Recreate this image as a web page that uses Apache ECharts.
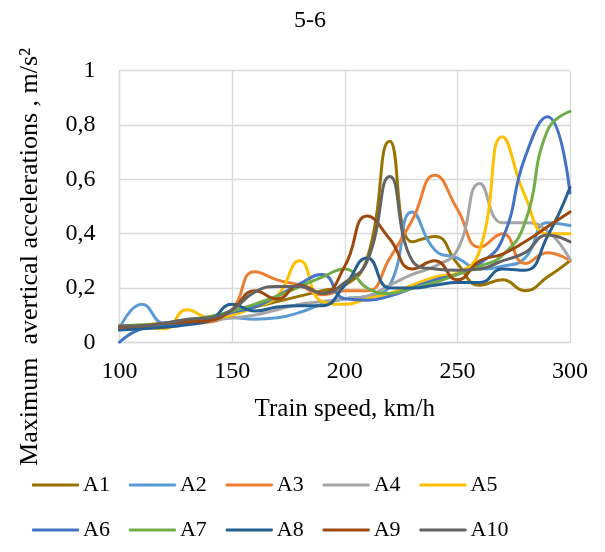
<!DOCTYPE html>
<html>
<head>
<meta charset="utf-8">
<script src="https://cdn.jsdelivr.net/npm/echarts@6/dist/echarts.min.js"></script>
<style>
  html, body { margin: 0; padding: 0; background: #fff; }
  #chart { width: 605px; height: 552px; }
</style>
</head>
<body>
<div id="chart"></div>
<script>
// Train speed, km/h
const speeds = [100, 110, 120, 130, 140, 150, 160, 170, 180, 190, 200, 210, 220, 230, 240, 250, 260, 270, 280, 290, 300];

// Maximum vertical accelerations, m/s², one array per measuring point
const A1  = [0.06, 0.06, 0.065, 0.075, 0.09, 0.11, 0.13, 0.15, 0.17, 0.19, 0.21, 0.31, 0.74, 0.37, 0.39, 0.29, 0.21, 0.23, 0.19, 0.24, 0.30];
const A2  = [0.05, 0.14, 0.07, 0.07, 0.08, 0.09, 0.085, 0.09, 0.11, 0.14, 0.16, 0.17, 0.21, 0.48, 0.34, 0.31, 0.27, 0.28, 0.31, 0.44, 0.43];
const A3  = [0.055, 0.06, 0.065, 0.07, 0.075, 0.12, 0.26, 0.23, 0.21, 0.175, 0.19, 0.19, 0.31, 0.45, 0.615, 0.49, 0.35, 0.40, 0.29, 0.33, 0.30];
const A4  = [0.06, 0.06, 0.065, 0.07, 0.08, 0.09, 0.10, 0.12, 0.14, 0.15, 0.16, 0.17, 0.21, 0.25, 0.28, 0.34, 0.585, 0.44, 0.44, 0.41, 0.305];
const A5  = [0.06, 0.055, 0.05, 0.12, 0.09, 0.10, 0.13, 0.17, 0.30, 0.15, 0.14, 0.16, 0.18, 0.21, 0.24, 0.255, 0.34, 0.757, 0.54, 0.40, 0.40];
const A6  = [0.0, 0.05, 0.06, 0.07, 0.085, 0.11, 0.13, 0.17, 0.215, 0.25, 0.16, 0.155, 0.17, 0.20, 0.23, 0.25, 0.29, 0.38, 0.68, 0.83, 0.55];
const A7  = [0.06, 0.065, 0.07, 0.08, 0.095, 0.115, 0.14, 0.17, 0.205, 0.24, 0.27, 0.20, 0.18, 0.20, 0.22, 0.25, 0.28, 0.32, 0.44, 0.78, 0.85];
const A8  = [0.045, 0.05, 0.055, 0.065, 0.08, 0.14, 0.115, 0.13, 0.135, 0.135, 0.21, 0.31, 0.20, 0.20, 0.21, 0.22, 0.22, 0.27, 0.265, 0.39, 0.57];
const A9  = [0.055, 0.06, 0.07, 0.075, 0.08, 0.12, 0.19, 0.16, 0.21, 0.18, 0.28, 0.465, 0.38, 0.27, 0.30, 0.23, 0.30, 0.325, 0.37, 0.425, 0.48];
const A10 = [0.06, 0.06, 0.07, 0.085, 0.09, 0.12, 0.185, 0.205, 0.205, 0.18, 0.22, 0.30, 0.61, 0.30, 0.27, 0.265, 0.27, 0.30, 0.33, 0.395, 0.37];

const seriesNames = ['A1', 'A2', 'A3', 'A4', 'A5', 'A6', 'A7', 'A8', 'A9', 'A10'];
const seriesValues = [A1, A2, A3, A4, A5, A6, A7, A8, A9, A10];
const seriesColors = ['#997300', '#5B9BD5', '#ED7D31', '#A5A5A5', '#FFC000',
                      '#4472C4', '#70AD47', '#255E91', '#9E480E', '#636363'];

// Axis ticks
const xMin = 100, xMax = 300, xStep = 50;
const yMin = 0, yMax = 1, yStep = 0.2;

const FONT = '"Liberation Serif", "Times New Roman", serif';
const gridColor = '#D9D9D9';

const chart = echarts.init(document.getElementById('chart'), null, { renderer: 'canvas' });

const series = seriesNames.map((name, k) => ({
  name: name,
  type: 'line',
  smooth: 0.5,
  symbol: 'none',
  data: speeds.map((s, i) => [s, seriesValues[k][i]]),
  lineStyle: { width: 3, color: seriesColors[k], cap: 'round', join: 'round' },
  itemStyle: { color: seriesColors[k] },
  emphasis: { disabled: true }
}));

const legendCommon = {
  left: 32,
  padding: 0,
  orient: 'horizontal',
  icon: 'roundRect',
  itemWidth: 47,
  itemHeight: 3,
  itemGap: 19,
  textStyle: { fontFamily: FONT, fontSize: 22, color: '#000', padding: [0, 0, 0, -1] },
  selectedMode: false
};

chart.setOption({
  animation: false,
  backgroundColor: '#fff',
  title: {
    text: '5-6',
    left: 305,
    textAlign: 'center',
    top: 4,
    textStyle: { fontFamily: FONT, fontSize: 24, fontWeight: 'normal', color: '#000' }
  },
  grid: { left: 119.5, right: 35, top: 70.7, bottom: 209.7, containLabel: false },
  legend: [
    Object.assign({}, legendCommon, { top: 474, data: seriesNames.slice(0, 5) }),
    Object.assign({}, legendCommon, { top: 519, data: seriesNames.slice(5) })
  ],
  xAxis: {
    type: 'value',
    min: xMin, max: xMax, interval: xStep,
    name: 'Train speed, km/h',
    nameLocation: 'middle',
    nameGap: 55,
    nameTextStyle: { fontFamily: FONT, fontSize: 25, color: '#000' },
    axisLine: { show: true, lineStyle: { color: gridColor, width: 1.3 } },
    axisTick: { show: false },
    axisLabel: { fontFamily: FONT, fontSize: 24, color: '#000', margin: 17 },
    splitLine: { show: true, lineStyle: { color: gridColor, width: 1.3 } }
  },
  yAxis: {
    type: 'value',
    min: yMin, max: yMax, interval: yStep,
    axisLine: { show: true, lineStyle: { color: gridColor, width: 1.3 } },
    axisTick: { show: false },
    axisLabel: {
      fontFamily: FONT, fontSize: 24, color: '#000', margin: 24,
      formatter: v => String(Math.round(v * 10) / 10).replace('.', ',')
    },
    splitLine: { show: true, lineStyle: { color: gridColor, width: 1.3 } }
  },
  graphic: [{
    type: 'text',
    x: 30, y: 257,
    rotation: Math.PI / 2,
    style: {
      text: 'Maximum  avertical accelerations , m/s²',
      fontFamily: FONT,
      fontSize: 26,
      fill: '#000',
      textAlign: 'center',
      textVerticalAlign: 'middle'
    }
  }],
  series: series
});
</script>
</body>
</html>
